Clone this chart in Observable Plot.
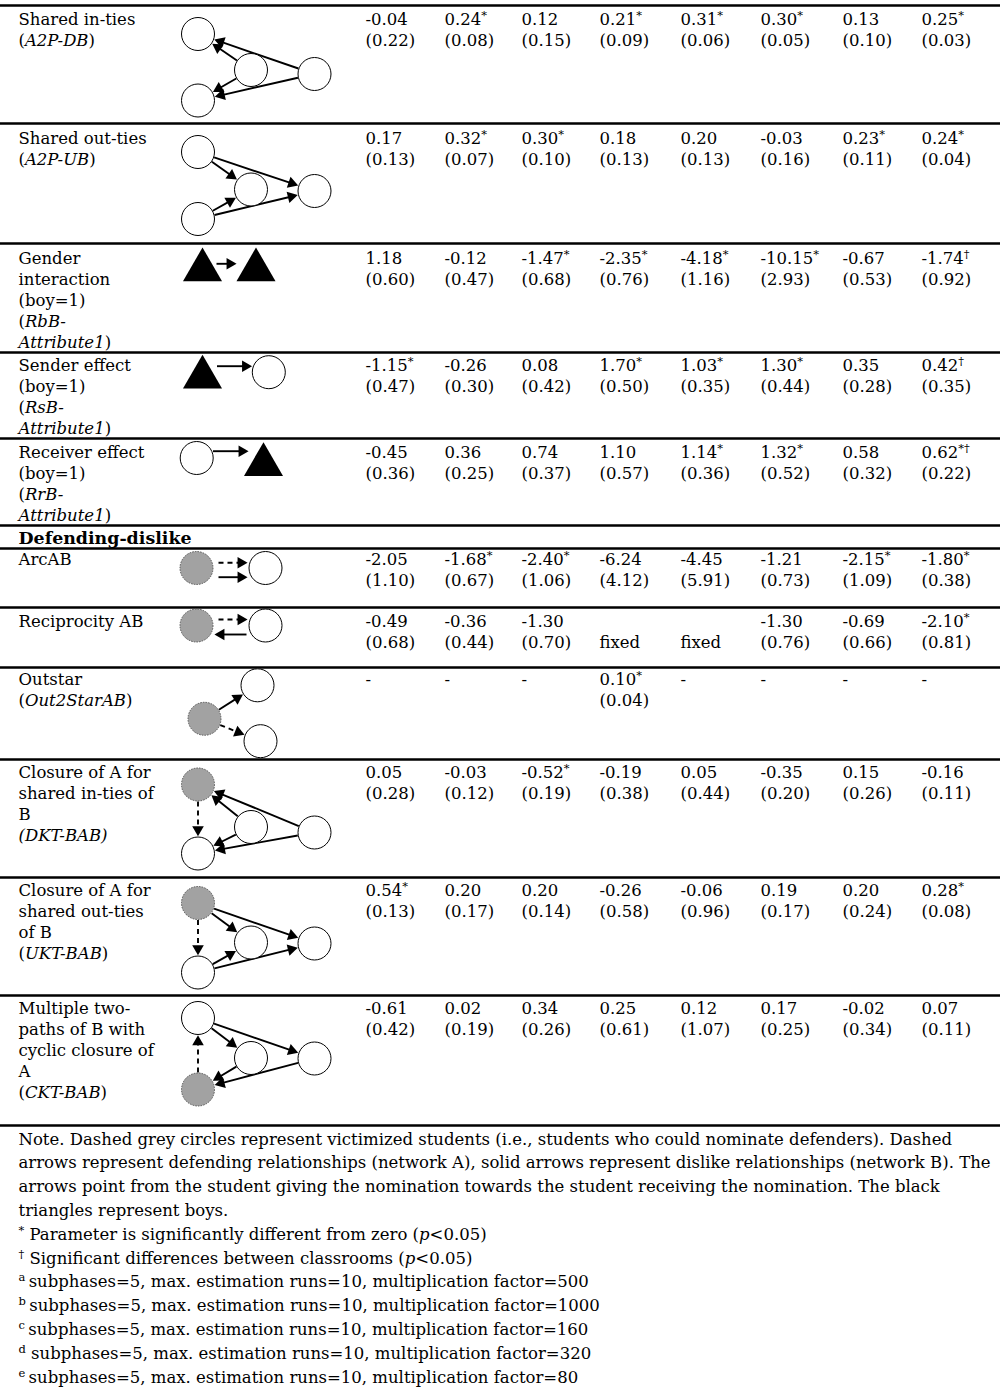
<!DOCTYPE html>
<html><head><meta charset="utf-8">
<script src="https://cdn.jsdelivr.net/npm/d3@7"></script>
<script src="https://cdn.jsdelivr.net/npm/@observablehq/plot@0.6"></script>
<style>html,body{margin:0;padding:0;background:#fff}</style>
</head><body><div id="chart"></div>
<script>
// ---------- DATA ----------
const rowLabels = [
  ["Shared in-ties", "(_A2P-DB_)"],
  ["Shared out-ties", "(_A2P-UB_)"],
  ["Gender", "interaction", "(boy=1)", "(_RbB-_", "_Attribute1_)"],
  ["Sender effect", "(boy=1)", "(_RsB-_", "_Attribute1_)"],
  ["Receiver effect", "(boy=1)", "(_RrB-_", "_Attribute1_)"],
  ["ArcAB"],
  ["Reciprocity AB"],
  ["Outstar", "(_Out2StarAB_)"],
  ["Closure of A for", "shared in-ties of", "B", "_(DKT-BAB)_"],
  ["Closure of A for", "shared out-ties", "of B", "(_UKT-BAB_)"],
  ["Multiple two-", "paths of B with", "cyclic closure of", "A", "(_CKT-BAB_)"]
];
const sectionLabel = "Defending-dislike";
const estimates = [
  ["-0.04","0.24*","0.12","0.21*","0.31*","0.30*","0.13","0.25*"],
  ["0.17","0.32*","0.30*","0.18","0.20","-0.03","0.23*","0.24*"],
  ["1.18","-0.12","-1.47*","-2.35*","-4.18*","-10.15*","-0.67","-1.74†"],
  ["-1.15*","-0.26","0.08","1.70*","1.03*","1.30*","0.35","0.42†"],
  ["-0.45","0.36","0.74","1.10","1.14*","1.32*","0.58","0.62*†"],
  ["-2.05","-1.68*","-2.40*","-6.24","-4.45","-1.21","-2.15*","-1.80*"],
  ["-0.49","-0.36","-1.30","","","-1.30","-0.69","-2.10*"],
  ["-","-","-","0.10*","-","-","-","-"],
  ["0.05","-0.03","-0.52*","-0.19","0.05","-0.35","0.15","-0.16"],
  ["0.54*","0.20","0.20","-0.26","-0.06","0.19","0.20","0.28*"],
  ["-0.61","0.02","0.34","0.25","0.12","0.17","-0.02","0.07"]
];
const stdErrors = [
  ["(0.22)","(0.08)","(0.15)","(0.09)","(0.06)","(0.05)","(0.10)","(0.03)"],
  ["(0.13)","(0.07)","(0.10)","(0.13)","(0.13)","(0.16)","(0.11)","(0.04)"],
  ["(0.60)","(0.47)","(0.68)","(0.76)","(1.16)","(2.93)","(0.53)","(0.92)"],
  ["(0.47)","(0.30)","(0.42)","(0.50)","(0.35)","(0.44)","(0.28)","(0.35)"],
  ["(0.36)","(0.25)","(0.37)","(0.57)","(0.36)","(0.52)","(0.32)","(0.22)"],
  ["(1.10)","(0.67)","(1.06)","(4.12)","(5.91)","(0.73)","(1.09)","(0.38)"],
  ["(0.68)","(0.44)","(0.70)","fixed","fixed","(0.76)","(0.66)","(0.81)"],
  ["","","","(0.04)","","","",""],
  ["(0.28)","(0.12)","(0.19)","(0.38)","(0.44)","(0.20)","(0.26)","(0.11)"],
  ["(0.13)","(0.17)","(0.14)","(0.58)","(0.96)","(0.17)","(0.24)","(0.08)"],
  ["(0.42)","(0.19)","(0.26)","(0.61)","(1.07)","(0.25)","(0.34)","(0.11)"]
];
const noteLines = [
  "Note. Dashed grey circles represent victimized students (i.e., students who could nominate defenders). Dashed",
  "arrows represent defending relationships (network A), solid arrows represent dislike relationships (network B). The",
  "arrows point from the student giving the nomination towards the student receiving the nomination. The black",
  "triangles represent boys.",
  "^{*} Parameter is significantly different from zero (_p_<0.05)",
  "^{†} Significant differences between classrooms (_p_<0.05)",
  "^{a}\u2009subphases=5, max. estimation runs=10, multiplication factor=500",
  "^{b}\u2009subphases=5, max. estimation runs=10, multiplication factor=1000",
  "^{c}\u2009subphases=5, max. estimation runs=10, multiplication factor=160",
  "^{d} subphases=5, max. estimation runs=10, multiplication factor=320",
  "^{e}\u2009subphases=5, max. estimation runs=10, multiplication factor=80"
];

// ---------- LAYOUT ----------
const W = 1000, H = 1395;
const rowTops = [5,123,243,352,438,548,607,667,759,877,995];
const sectionTop = 525;
const tableBottom = 1125;
const baseOff = [19,20,20,18,19,16,19,17.5,18,18,18];
const lineH = 21;
const labelX = 18;
const colX = [365,444,521,599,680,760,842,921];
const noteTop = 1144, noteStep = 23.8;
const R = 16.5;

// diagram schematics (x absolute, y relative to row top)
const diagrams = [
  {nodes:{TL:[197.5,28.5,"w"],M:[250.5,64.5,"w"],Rt:[314,68.5,"w"],BL:[197.5,95,"w"]},
   edges:[["M","TL"],["Rt","TL"],["M","BL"],["Rt","BL"]]},
  {nodes:{TL:[197.5,28.5,"w"],M:[250.5,66,"w"],Rt:[314,67.5,"w"],BL:[197.5,95.5,"w"]},
   edges:[["TL","M"],["TL","Rt"],["BL","M"],["BL","Rt"]]},
  {nodes:{A:[202,26.5,"t"],B:[255.5,26.5,"t"]}, arrows:[[216,20.3,236,20.3,0]]},
  {nodes:{A:[202,24.8,"t"],B:[268.3,19.7,"w"]}, arrows:[[216.5,13.7,251.5,13.7,0]]},
  {nodes:{A:[196.2,19.5,"w"],B:[263,26.2,"t"]}, arrows:[[212.5,12.7,248,12.7,0]]},
  {nodes:{A:[196,19.5,"g"],B:[265,19.5,"w"]}, arrows:[[218,14.3,247,14.3,1],[218,28.7,247,28.7,0]]},
  {nodes:{A:[196,18,"g"],B:[265,18,"w"]}, arrows:[[218,12,247,12,1],[246,27,214,27,0]]},
  {nodes:{G:[204,51.3,"g"],T:[257,17.8,"w"],B:[260,73.7,"w"]}, edges:[["G","T"],["G","B",1]]},
  {nodes:{TL:[197.5,25,"g"],M:[250.5,67.5,"w"],Rt:[314,73,"w"],BL:[197.5,94,"w"]},
   edges:[["M","TL"],["Rt","TL"],["M","BL"],["Rt","BL"],["TL","BL",1]]},
  {nodes:{TL:[197.5,25.5,"g"],M:[250.5,65,"w"],Rt:[314,66,"w"],BL:[197.5,95,"w"]},
   edges:[["TL","M"],["TL","Rt"],["BL","M"],["BL","Rt"],["TL","BL",1]]},
  {nodes:{TL:[197.5,22.5,"w"],M:[250.5,62.5,"w"],Rt:[314,63,"w"],BL:[197.5,94,"g"]},
   edges:[["TL","M"],["TL","Rt"],["M","BL"],["Rt","BL"],["BL","TL",1]]}
];

// ---------- BUILD MARK DATA ----------
const labelData = [];
rowLabels.forEach((lines, r) => lines.forEach((t, i) =>
  labelData.push({x: labelX, y: rowTops[r] + baseOff[r] + i * lineH, t})));

const valueData = [];
estimates.forEach((row, r) => row.forEach((v, c) => {
  const y0 = rowTops[r] + baseOff[r];
  if (v) valueData.push({x: colX[c], y: y0, t: v.replace(/([*†]+)$/, "^{$1}")});
  const se = stdErrors[r][c];
  if (se) valueData.push({x: colX[c], y: y0 + lineH, t: se});
}));

const noteData = noteLines.map((t, i) => ({x: labelX, y: noteTop + i * noteStep, t}));

const circles = [], tris = [], solid = [], dashed = [], heads = [];
const HEAD = 3.3;
function addArrow(x1, y1, x2, y2, dash) {
  const dx = x2 - x1, dy = y2 - y1, L = Math.hypot(dx, dy), ux = dx / L, uy = dy / L;
  const seg = {x1, y1, x2: x2 - ux * HEAD * 2.2, y2: y2 - uy * HEAD * 2.2};
  (dash ? dashed : solid).push(seg);
  heads.push({x: x2 - ux * HEAD * 2, y: y2 - uy * HEAD * 2, a: Math.atan2(ux, -uy) * 180 / Math.PI});
}
diagrams.forEach((d, r) => {
  const top = rowTops[r];
  for (const [id, [x, y, k]] of Object.entries(d.nodes)) {
    if (k === "t") tris.push({x, y: top + y});
    else circles.push({x, y: top + y, k});
  }
  (d.edges || []).forEach(([a, b, dash]) => {
    const [xa, ya] = d.nodes[a], [xb, yb] = d.nodes[b];
    const dx = xb - xa, dy = yb - ya, L = Math.hypot(dx, dy), ux = dx / L, uy = dy / L;
    addArrow(xa + ux * (R + 0.5), top + ya + uy * (R + 0.5), xb - ux * (R + 0.8), top + yb - uy * (R + 0.8), dash);
  });
  (d.arrows || []).forEach(([x1, y1, x2, y2, dash]) => addArrow(x1, top + y1, x2, top + y2, dash));
});

const ruleData = [...rowTops.slice(0,5), sectionTop, ...rowTops.slice(5), tableBottom];

const font = {fontFamily: "DejaVu Serif", fontSize: 16.5, textAnchor: "start", lineAnchor: "bottom", fill: "black"};

const svg = Plot.plot({
  width: W, height: H, margin: 0,
  x: {type: "linear", domain: [0, W], range: [0, W], axis: null},
  y: {type: "linear", domain: [0, H], range: [0, H], axis: null},
  style: {background: "white", overflow: "visible"},
  marks: [
    Plot.ruleY(ruleData, {y: d => d, x1: 0, x2: W, stroke: "black", strokeWidth: 2.6}),
    Plot.link(solid, {x1: "x1", y1: "y1", x2: "x2", y2: "y2", stroke: "black", strokeWidth: 1.9}),
    Plot.link(dashed, {x1: "x1", y1: "y1", x2: "x2", y2: "y2", stroke: "black", strokeWidth: 1.9, strokeDasharray: "5,4"}),
    Plot.dot(heads, {x: "x", y: "y", rotate: "a", symbol: "triangle", r: 4.3, fill: "black", stroke: "none"}),
    Plot.dot(circles.filter(d => d.k === "w"), {x: "x", y: "y", r: R, fill: "white", stroke: "black", strokeWidth: 1}),
    Plot.dot(circles.filter(d => d.k === "g"), {x: "x", y: "y", r: R, fill: "#a2a2a2", stroke: "#555", strokeWidth: 1, strokeDasharray: "1.5,1.2"}),
    Plot.dot(tris, {x: "x", y: "y", symbol: "triangle", r: 14.5, fill: "black", stroke: "none"}),
    Plot.text(labelData, {x: "x", y: "y", text: "t", ...font}),
    Plot.text([{x: labelX, y: sectionTop + 18, t: sectionLabel}], {x: "x", y: "y", text: "t", ...font, fontSize: 17.4, fontWeight: "bold"}),
    Plot.text(valueData, {x: "x", y: "y", text: "t", ...font}),
    Plot.text(noteData, {x: "x", y: "y", text: "t", ...font})
  ]
});

// rich text: _italic_ and ^{superscript}
const NS = "http://www.w3.org/2000/svg";
svg.querySelectorAll("text").forEach(t => {
  const s = t.textContent;
  if (!/[_^]/.test(s)) return;
  t.textContent = "";
  const re = /\^\{([^}]*)\}|_([^_]*)_|([^_^]+)/g;
  let m, shifted = false;
  while ((m = re.exec(s))) {
    const sp = document.createElementNS(NS, "tspan");
    if (m[1] != null) {
      sp.textContent = m[1];
      sp.setAttribute("font-size", "11.5");
      sp.setAttribute("dy", "-6");
      shifted = true;
    } else {
      sp.textContent = m[2] != null ? m[2] : m[3];
      if (m[2] != null) sp.setAttribute("font-style", "italic");
      if (shifted) { sp.setAttribute("dy", "6"); shifted = false; }
    }
    t.appendChild(sp);
  }
});

document.getElementById("chart").appendChild(svg);
</script>
</body></html>
